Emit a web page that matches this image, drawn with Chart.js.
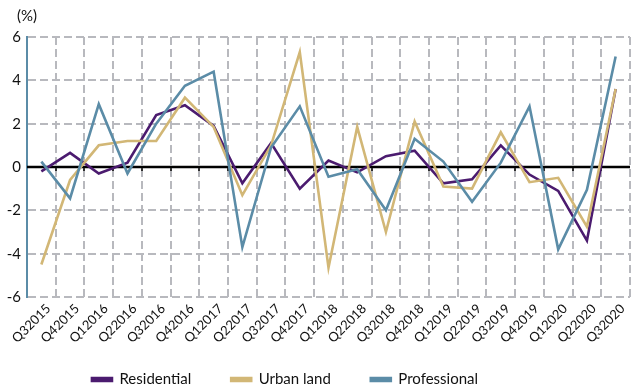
<!DOCTYPE html>
<html>
<head>
<meta charset="utf-8">
<script src="https://cdn.jsdelivr.net/npm/chart.js@4/dist/chart.umd.min.js"></script>
<style>
  html, body { margin: 0; padding: 0; background: #ffffff; }
  #wrap { width: 633px; height: 392px; position: relative; }
</style>
</head>
<body>
<div id="wrap"><canvas id="chart" width="633" height="392"></canvas></div>
<script>
// Quarterly change, in percent
const quarters = ['Q32015', 'Q42015', 'Q12016', 'Q22016', 'Q32016', 'Q42016', 'Q12017',
  'Q22017', 'Q32017', 'Q42017', 'Q12018', 'Q22018', 'Q32018', 'Q42018', 'Q12019',
  'Q22019', 'Q32019', 'Q42019', 'Q12020', 'Q22020', 'Q32020'];
const residential = [-0.2, 0.65, -0.3, 0.2, 2.4, 2.85, 1.9, -0.75, 1.1, -1.0, 0.3,
  -0.25, 0.5, 0.75, -0.75, -0.57, 1.0, -0.35, -1.1, -3.4, 3.6];
const urbanLand = [-4.5, -0.6, 1.0, 1.2, 1.2, 3.2, 1.85, -1.3, 1.0, 5.3, -4.65,
  1.85, -3.0, 2.1, -0.9, -1.0, 1.6, -0.7, -0.5, -2.75, 3.6];
const professional = [0.25, -1.45, 2.9, -0.3, 2.0, 3.75, 4.4, -3.7, 0.9, 2.8, -0.45,
  -0.1, -2.0, 1.3, 0.25, -1.6, 0.2, 2.8, -3.8, -1.05, 5.1];
const yMin = -6;
const yMax = 6;
const yStep = 2;
const unitLabel = '(%)';

const FONT = 'Lato, "Liberation Sans", Arial, sans-serif';
const COLORS = { residential: '#4b1b6f', urban: '#d2b776', professional: '#5b8ca7' };
const GRID = 'rgb(184, 185, 190)';
const GRID_DASH = [8, 4];

const lineStyle = { borderWidth: 2.6, pointRadius: 0, pointHoverRadius: 0, tension: 0, fill: false };

// Black zero line with small ticks on the category boundaries, plus the unit caption
const zeroLine = {
  id: 'zeroLine',
  beforeDatasetsDraw(chart) {
    const { ctx, chartArea, scales: { x, y } } = chart;
    const y0 = y.getPixelForValue(0);
    ctx.save();
    ctx.strokeStyle = '#000000';
    ctx.lineWidth = 1.5;
    ctx.beginPath();
    for (let i = 1; i < quarters.length; i++) {
      const bx = Math.round(x.getPixelForValue(i - 0.5));
      ctx.moveTo(bx, y0);
      ctx.lineTo(bx, y0 + 4);
    }
    ctx.stroke();
    ctx.lineWidth = 2.5;
    ctx.beginPath();
    ctx.moveTo(chartArea.left, y0);
    ctx.lineTo(chartArea.right, y0);
    ctx.stroke();
    ctx.restore();
  },
  afterDraw(chart) {
    const { ctx } = chart;
    ctx.save();
    ctx.fillStyle = '#111111';
    ctx.font = '15px ' + FONT;
    ctx.textAlign = 'left';
    ctx.textBaseline = 'alphabetic';
    ctx.fillText(unitLabel, 17, 21);
    ctx.restore();
  }
};

// Legend row sits left of centre near the bottom edge
const legendPlacement = {
  id: 'legendPlacement',
  afterLayout(chart) {
    const lg = chart.legend;
    lg.right -= 60;
    lg.top = 332;
    lg.bottom = 392;
    lg.height = lg.bottom - lg.top;
  }
};

new Chart(document.getElementById('chart'), {
  type: 'line',
  data: {
    labels: quarters,
    datasets: [
      { label: 'Residential', data: residential, borderColor: COLORS.residential,
        backgroundColor: COLORS.residential, order: 2, ...lineStyle },
      { label: 'Urban land', data: urbanLand, borderColor: COLORS.urban,
        backgroundColor: COLORS.urban, order: 1, ...lineStyle },
      { label: 'Professional', data: professional, borderColor: COLORS.professional,
        backgroundColor: COLORS.professional, order: 0, ...lineStyle }
    ]
  },
  options: {
    responsive: false,
    animation: false,
    devicePixelRatio: 1,
    layout: { padding: { top: 37, right: 3, left: 0, bottom: 0 } },
    plugins: {
      tooltip: { enabled: false },
      title: { display: false },
      legend: {
        position: 'bottom',
        maxHeight: 30,
        labels: {
          boxWidth: 20,
          boxHeight: 3,
          padding: 40,
          color: '#111111',
          font: { size: 15, family: FONT },
          sort: (a, b) => a.datasetIndex - b.datasetIndex
        }
      }
    },
    scales: {
      x: {
        offset: true,
        grid: { display: true, offset: true, color: GRID, lineWidth: 2, drawTicks: false },
        border: { display: false, dash: GRID_DASH },
        ticks: {
          autoSkip: false,
          maxRotation: 45,
          minRotation: 45,
          padding: 4,
          labelOffset: 7,
          color: '#111111',
          font: { size: 13, family: FONT }
        },
        afterFit(scale) { scale.height = 65; }
      },
      y: {
        min: yMin,
        max: yMax,
        grid: {
          display: true,
          lineWidth: 2,
          drawTicks: false,
          color: (c) => (c.tick && c.tick.value === 0 ? 'rgba(0,0,0,0)' : GRID)
        },
        border: { display: true, color: COLORS.professional, width: 2, dash: GRID_DASH },
        ticks: {
          stepSize: yStep,
          padding: 6,
          color: '#111111',
          font: { size: 15, family: FONT }
        },
        afterFit(scale) { scale.width = 27; }
      }
    }
  },
  plugins: [zeroLine, legendPlacement]
});
</script>
</body>
</html>
